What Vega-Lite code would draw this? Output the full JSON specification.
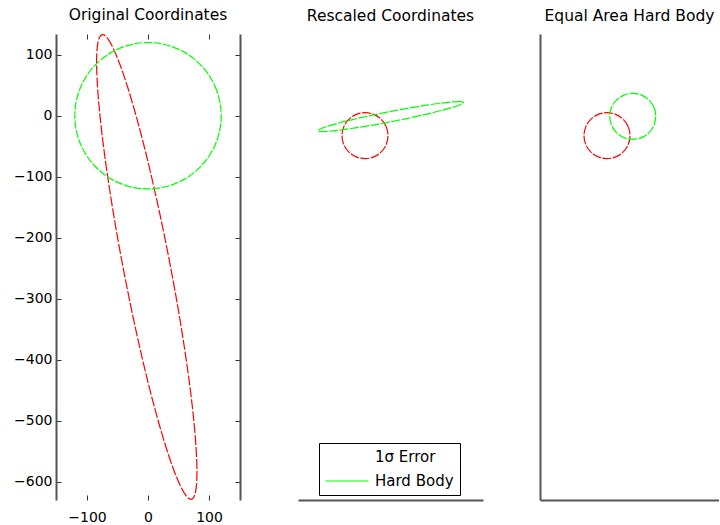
{
  "$schema": "https://vega.github.io/schema/vega-lite/v6.json",
  "padding": {"left": 13, "top": 8, "right": 0, "bottom": 0},
  "background": "white",
  "spacing": 57,
  "config": {
    "view": {"stroke": null},
    "font": "DejaVu Sans",
    "title": {"font": "DejaVu Sans", "fontSize": 15.5, "fontWeight": "normal", "color": "black", "offset": 10},
    "axis": {"grid": false, "title": null, "domainColor": "#555555", "domainWidth": 2, "tickColor": "#333333", "tickWidth": 1, "labelFont": "DejaVu Sans", "labelFontSize": 14, "labelColor": "black"}
  },
  "datasets": {
    "p1": [
      {"shape": "1σ Error", "i": 0, "x": -74.4, "y": 133.0},
      {"shape": "1σ Error", "i": 1, "x": -66.5, "y": 127.2},
      {"shape": "1σ Error", "i": 2, "x": -56.7, "y": 110.0},
      {"shape": "1σ Error", "i": 3, "x": -45.2, "y": 81.9},
      {"shape": "1σ Error", "i": 4, "x": -32.4, "y": 43.9},
      {"shape": "1σ Error", "i": 5, "x": -18.7, "y": -3.1},
      {"shape": "1σ Error", "i": 6, "x": -4.4, "y": -57.5},
      {"shape": "1σ Error", "i": 7, "x": 9.9, "y": -117.7},
      {"shape": "1σ Error", "i": 8, "x": 23.8, "y": -181.9},
      {"shape": "1σ Error", "i": 9, "x": 37.0, "y": -248.0},
      {"shape": "1σ Error", "i": 10, "x": 49.0, "y": -314.1},
      {"shape": "1σ Error", "i": 11, "x": 59.4, "y": -378.3},
      {"shape": "1σ Error", "i": 12, "x": 68.0, "y": -438.5},
      {"shape": "1σ Error", "i": 13, "x": 74.4, "y": -492.9},
      {"shape": "1σ Error", "i": 14, "x": 78.5, "y": -539.9},
      {"shape": "1σ Error", "i": 15, "x": 80.2, "y": -577.9},
      {"shape": "1σ Error", "i": 16, "x": 79.4, "y": -606.0},
      {"shape": "1σ Error", "i": 17, "x": 76.1, "y": -623.2},
      {"shape": "1σ Error", "i": 18, "x": 70.4, "y": -629.0},
      {"shape": "1σ Error", "i": 19, "x": 62.5, "y": -623.2},
      {"shape": "1σ Error", "i": 20, "x": 52.7, "y": -606.0},
      {"shape": "1σ Error", "i": 21, "x": 41.2, "y": -577.9},
      {"shape": "1σ Error", "i": 22, "x": 28.4, "y": -539.9},
      {"shape": "1σ Error", "i": 23, "x": 14.7, "y": -492.9},
      {"shape": "1σ Error", "i": 24, "x": 0.4, "y": -438.5},
      {"shape": "1σ Error", "i": 25, "x": -13.9, "y": -378.3},
      {"shape": "1σ Error", "i": 26, "x": -27.8, "y": -314.1},
      {"shape": "1σ Error", "i": 27, "x": -41.0, "y": -248.0},
      {"shape": "1σ Error", "i": 28, "x": -53.0, "y": -181.9},
      {"shape": "1σ Error", "i": 29, "x": -63.4, "y": -117.7},
      {"shape": "1σ Error", "i": 30, "x": -72.0, "y": -57.5},
      {"shape": "1σ Error", "i": 31, "x": -78.4, "y": -3.1},
      {"shape": "1σ Error", "i": 32, "x": -82.5, "y": 43.9},
      {"shape": "1σ Error", "i": 33, "x": -84.2, "y": 81.9},
      {"shape": "1σ Error", "i": 34, "x": -83.4, "y": 110.0},
      {"shape": "1σ Error", "i": 35, "x": -80.1, "y": 127.2},
      {"shape": "Hard Body", "i": 0, "x": 120.0, "y": 0.0},
      {"shape": "Hard Body", "i": 1, "x": 112.8, "y": 41.0},
      {"shape": "Hard Body", "i": 2, "x": 91.9, "y": 77.1},
      {"shape": "Hard Body", "i": 3, "x": 60.0, "y": 103.9},
      {"shape": "Hard Body", "i": 4, "x": 20.8, "y": 118.2},
      {"shape": "Hard Body", "i": 5, "x": -20.8, "y": 118.2},
      {"shape": "Hard Body", "i": 6, "x": -60.0, "y": 103.9},
      {"shape": "Hard Body", "i": 7, "x": -91.9, "y": 77.1},
      {"shape": "Hard Body", "i": 8, "x": -112.8, "y": 41.0},
      {"shape": "Hard Body", "i": 9, "x": -120.0, "y": 0.0},
      {"shape": "Hard Body", "i": 10, "x": -112.8, "y": -41.0},
      {"shape": "Hard Body", "i": 11, "x": -91.9, "y": -77.1},
      {"shape": "Hard Body", "i": 12, "x": -60.0, "y": -103.9},
      {"shape": "Hard Body", "i": 13, "x": -20.8, "y": -118.2},
      {"shape": "Hard Body", "i": 14, "x": 20.8, "y": -118.2},
      {"shape": "Hard Body", "i": 15, "x": 60.0, "y": -103.9},
      {"shape": "Hard Body", "i": 16, "x": 91.9, "y": -77.1},
      {"shape": "Hard Body", "i": 17, "x": 112.8, "y": -41.0}
    ],
    "p2": [
      {"shape": "1σ Error", "i": 0, "x": 1.0, "y": 0.0},
      {"shape": "1σ Error", "i": 1, "x": 0.924, "y": 0.383},
      {"shape": "1σ Error", "i": 2, "x": 0.707, "y": 0.707},
      {"shape": "1σ Error", "i": 3, "x": 0.383, "y": 0.924},
      {"shape": "1σ Error", "i": 4, "x": 0.0, "y": 1.0},
      {"shape": "1σ Error", "i": 5, "x": -0.383, "y": 0.924},
      {"shape": "1σ Error", "i": 6, "x": -0.707, "y": 0.707},
      {"shape": "1σ Error", "i": 7, "x": -0.924, "y": 0.383},
      {"shape": "1σ Error", "i": 8, "x": -1.0, "y": 0.0},
      {"shape": "1σ Error", "i": 9, "x": -0.924, "y": -0.383},
      {"shape": "1σ Error", "i": 10, "x": -0.707, "y": -0.707},
      {"shape": "1σ Error", "i": 11, "x": -0.383, "y": -0.924},
      {"shape": "1σ Error", "i": 12, "x": 0.0, "y": -1.0},
      {"shape": "1σ Error", "i": 13, "x": 0.383, "y": -0.924},
      {"shape": "1σ Error", "i": 14, "x": 0.707, "y": -0.707},
      {"shape": "1σ Error", "i": 15, "x": 0.924, "y": -0.383},
      {"shape": "Hard Body", "i": 0, "x": 4.279, "y": 1.444},
      {"shape": "Hard Body", "i": 1, "x": 4.160, "y": 1.479},
      {"shape": "Hard Body", "i": 2, "x": 3.835, "y": 1.470},
      {"shape": "Hard Body", "i": 3, "x": 3.324, "y": 1.417},
      {"shape": "Hard Body", "i": 4, "x": 2.664, "y": 1.324},
      {"shape": "Hard Body", "i": 5, "x": 1.897, "y": 1.198},
      {"shape": "Hard Body", "i": 6, "x": 1.078, "y": 1.046},
      {"shape": "Hard Body", "i": 7, "x": 0.261, "y": 0.880},
      {"shape": "Hard Body", "i": 8, "x": -0.496, "y": 0.710},
      {"shape": "Hard Body", "i": 9, "x": -1.144, "y": 0.549},
      {"shape": "Hard Body", "i": 10, "x": -1.637, "y": 0.406},
      {"shape": "Hard Body", "i": 11, "x": -1.942, "y": 0.293},
      {"shape": "Hard Body", "i": 12, "x": -2.039, "y": 0.216},
      {"shape": "Hard Body", "i": 13, "x": -1.920, "y": 0.181},
      {"shape": "Hard Body", "i": 14, "x": -1.595, "y": 0.190},
      {"shape": "Hard Body", "i": 15, "x": -1.084, "y": 0.243},
      {"shape": "Hard Body", "i": 16, "x": -0.424, "y": 0.336},
      {"shape": "Hard Body", "i": 17, "x": 0.343, "y": 0.462},
      {"shape": "Hard Body", "i": 18, "x": 1.162, "y": 0.614},
      {"shape": "Hard Body", "i": 19, "x": 1.979, "y": 0.780},
      {"shape": "Hard Body", "i": 20, "x": 2.736, "y": 0.950},
      {"shape": "Hard Body", "i": 21, "x": 3.384, "y": 1.111},
      {"shape": "Hard Body", "i": 22, "x": 3.877, "y": 1.254},
      {"shape": "Hard Body", "i": 23, "x": 4.182, "y": 1.367}
    ],
    "p3": [
      {"shape": "1σ Error", "i": 0, "x": 1.0, "y": 0.0},
      {"shape": "1σ Error", "i": 1, "x": 0.924, "y": 0.383},
      {"shape": "1σ Error", "i": 2, "x": 0.707, "y": 0.707},
      {"shape": "1σ Error", "i": 3, "x": 0.383, "y": 0.924},
      {"shape": "1σ Error", "i": 4, "x": 0.0, "y": 1.0},
      {"shape": "1σ Error", "i": 5, "x": -0.383, "y": 0.924},
      {"shape": "1σ Error", "i": 6, "x": -0.707, "y": 0.707},
      {"shape": "1σ Error", "i": 7, "x": -0.924, "y": 0.383},
      {"shape": "1σ Error", "i": 8, "x": -1.0, "y": 0.0},
      {"shape": "1σ Error", "i": 9, "x": -0.924, "y": -0.383},
      {"shape": "1σ Error", "i": 10, "x": -0.707, "y": -0.707},
      {"shape": "1σ Error", "i": 11, "x": -0.383, "y": -0.924},
      {"shape": "1σ Error", "i": 12, "x": 0.0, "y": -1.0},
      {"shape": "1σ Error", "i": 13, "x": 0.383, "y": -0.924},
      {"shape": "1σ Error", "i": 14, "x": 0.707, "y": -0.707},
      {"shape": "1σ Error", "i": 15, "x": 0.924, "y": -0.383},
      {"shape": "Hard Body", "i": 0, "x": 2.12, "y": 0.84},
      {"shape": "Hard Body", "i": 1, "x": 2.044, "y": 1.223},
      {"shape": "Hard Body", "i": 2, "x": 1.827, "y": 1.547},
      {"shape": "Hard Body", "i": 3, "x": 1.503, "y": 1.764},
      {"shape": "Hard Body", "i": 4, "x": 1.12, "y": 1.84},
      {"shape": "Hard Body", "i": 5, "x": 0.737, "y": 1.764},
      {"shape": "Hard Body", "i": 6, "x": 0.413, "y": 1.547},
      {"shape": "Hard Body", "i": 7, "x": 0.196, "y": 1.223},
      {"shape": "Hard Body", "i": 8, "x": 0.12, "y": 0.84},
      {"shape": "Hard Body", "i": 9, "x": 0.196, "y": 0.457},
      {"shape": "Hard Body", "i": 10, "x": 0.413, "y": 0.133},
      {"shape": "Hard Body", "i": 11, "x": 0.737, "y": -0.084},
      {"shape": "Hard Body", "i": 12, "x": 1.12, "y": -0.16},
      {"shape": "Hard Body", "i": 13, "x": 1.503, "y": -0.084},
      {"shape": "Hard Body", "i": 14, "x": 1.827, "y": 0.133},
      {"shape": "Hard Body", "i": 15, "x": 2.044, "y": 0.457}
    ]
  },
  "resolve": {"legend": {"color": "independent", "stroke": "independent"}},
  "hconcat": [
    {
      "width": 184,
      "height": 466,
      "title": "Original Coordinates",
      "layer": [
        {
          "data": {"name": "p1"},
          "transform": [{"filter": "datum.shape === '1σ Error'"}],
          "mark": {"type": "line", "interpolate": "cardinal-closed", "strokeWidth": 1.2, "strokeDash": [10, 2], "clip": true},
          "encoding": {
            "x": {"field": "x", "type": "quantitative", "scale": {"domain": [-150.8, 150.8], "nice": false, "zero": false},
                  "axis": {"orient": "bottom", "domain": false, "values": [-100, 0, 100], "tickSize": -5, "labelPadding": 15}},
            "y": {"field": "y", "type": "quantitative", "scale": {"domain": [-630, 134], "nice": false, "zero": false},
                  "axis": {"orient": "left", "values": [100, 0, -100, -200, -300, -400, -500, -600], "tickSize": -5, "labelPadding": 9}},
            "order": {"field": "i", "type": "quantitative"},
            "color": {"field": "shape", "type": "nominal", "scale": {"domain": ["1σ Error", "Hard Body"], "range": ["#ff0000", "#00ff00"]}, "legend": null}
          }
        },
        {
          "data": {"name": "p1"},
          "transform": [{"filter": "datum.shape === 'Hard Body'"}],
          "mark": {"type": "line", "interpolate": "cardinal-closed", "strokeWidth": 1.2, "strokeDash": [8, 1.5], "clip": true},
          "encoding": {
            "x": {"field": "x", "type": "quantitative", "scale": {"domain": [-150.8, 150.8], "nice": false, "zero": false},
                  "axis": {"orient": "top", "domain": false, "values": [-100, 0, 100], "tickSize": -5, "labels": false}},
            "y": {"field": "y", "type": "quantitative", "scale": {"domain": [-630, 134], "nice": false, "zero": false},
                  "axis": {"orient": "right", "values": [100, 0, -100, -200, -300, -400, -500, -600], "tickSize": -5, "labels": false}},
            "order": {"field": "i", "type": "quantitative"},
            "color": {"field": "shape", "type": "nominal", "scale": {"domain": ["1σ Error", "Hard Body"], "range": ["#ff0000", "#00ff00"]}, "legend": null}
          }
        }
      ],
      "resolve": {"axis": {"x": "independent", "y": "independent"}}
    },
    {
      "width": 185,
      "height": 466,
      "title": "Rescaled Coordinates",
      "layer": [
        {
          "data": {"name": "p2"},
          "transform": [{"filter": "datum.shape === '1σ Error'"}],
          "mark": {"type": "line", "interpolate": "cardinal-closed", "strokeWidth": 1.2, "clip": true},
          "encoding": {
            "x": {"field": "x", "type": "quantitative", "scale": {"domain": [-2.913, 5.13], "nice": false, "zero": false},
                  "axis": {"orient": "bottom", "domain": true, "ticks": false, "labels": false}},
            "y": {"field": "y", "type": "quantitative", "scale": {"domain": [-15.84, 4.42], "nice": false, "zero": false}, "axis": null},
            "order": {"field": "i", "type": "quantitative"},
            "stroke": {"field": "shape", "type": "nominal", "scale": {"domain": ["1σ Error", "Hard Body"], "range": ["#ffffff", "#00ff00"]},
              "legend": {
                "title": null, "orient": "none", "legendX": 21, "legendY": 409,
                "symbolType": "stroke", "symbolSize": 1849, "symbolStrokeWidth": 1,
                "labelFont": "DejaVu Sans", "labelFontSize": 15, "labelColor": "black", "labelOffset": 6,
                "padding": 6, "strokeColor": "black", "fillColor": "white", "cornerRadius": 0,
                "clipHeight": 16, "rowPadding": 8
              }
            }
          }
        },
        {
          "data": {"name": "p2"},
          "mark": {"type": "line", "interpolate": "cardinal-closed", "strokeWidth": 1.2, "strokeDash": [9, 1.5], "clip": true},
          "encoding": {
            "x": {"field": "x", "type": "quantitative", "scale": {"domain": [-2.913, 5.13], "nice": false, "zero": false},
                  "axis": {"orient": "bottom", "domain": true, "ticks": false, "labels": false}},
            "y": {"field": "y", "type": "quantitative", "scale": {"domain": [-15.84, 4.42], "nice": false, "zero": false}, "axis": null},
            "order": {"field": "i", "type": "quantitative"},
            "color": {"field": "shape", "type": "nominal", "scale": {"domain": ["1σ Error", "Hard Body"], "range": ["#ff0000", "#00ff00"]}, "legend": null}
          }
        }
      ]
    },
    {
      "width": 179,
      "height": 466,
      "title": "Equal Area Hard Body",
      "data": {"name": "p3"},
      "mark": {"type": "line", "interpolate": "cardinal-closed", "strokeWidth": 1.2, "strokeDash": [9, 1.5], "clip": true},
      "encoding": {
        "x": {"field": "x", "type": "quantitative", "scale": {"domain": [-2.913, 4.87], "nice": false, "zero": false},
              "axis": {"orient": "bottom", "domain": true, "ticks": false, "labels": false}},
        "y": {"field": "y", "type": "quantitative", "scale": {"domain": [-15.84, 4.42], "nice": false, "zero": false},
              "axis": {"orient": "left", "domain": true, "ticks": false, "labels": false}},
        "order": {"field": "i", "type": "quantitative"},
        "color": {"field": "shape", "type": "nominal", "scale": {"domain": ["1σ Error", "Hard Body"], "range": ["#ff0000", "#00ff00"]}, "legend": null}
      }
    }
  ]
}
